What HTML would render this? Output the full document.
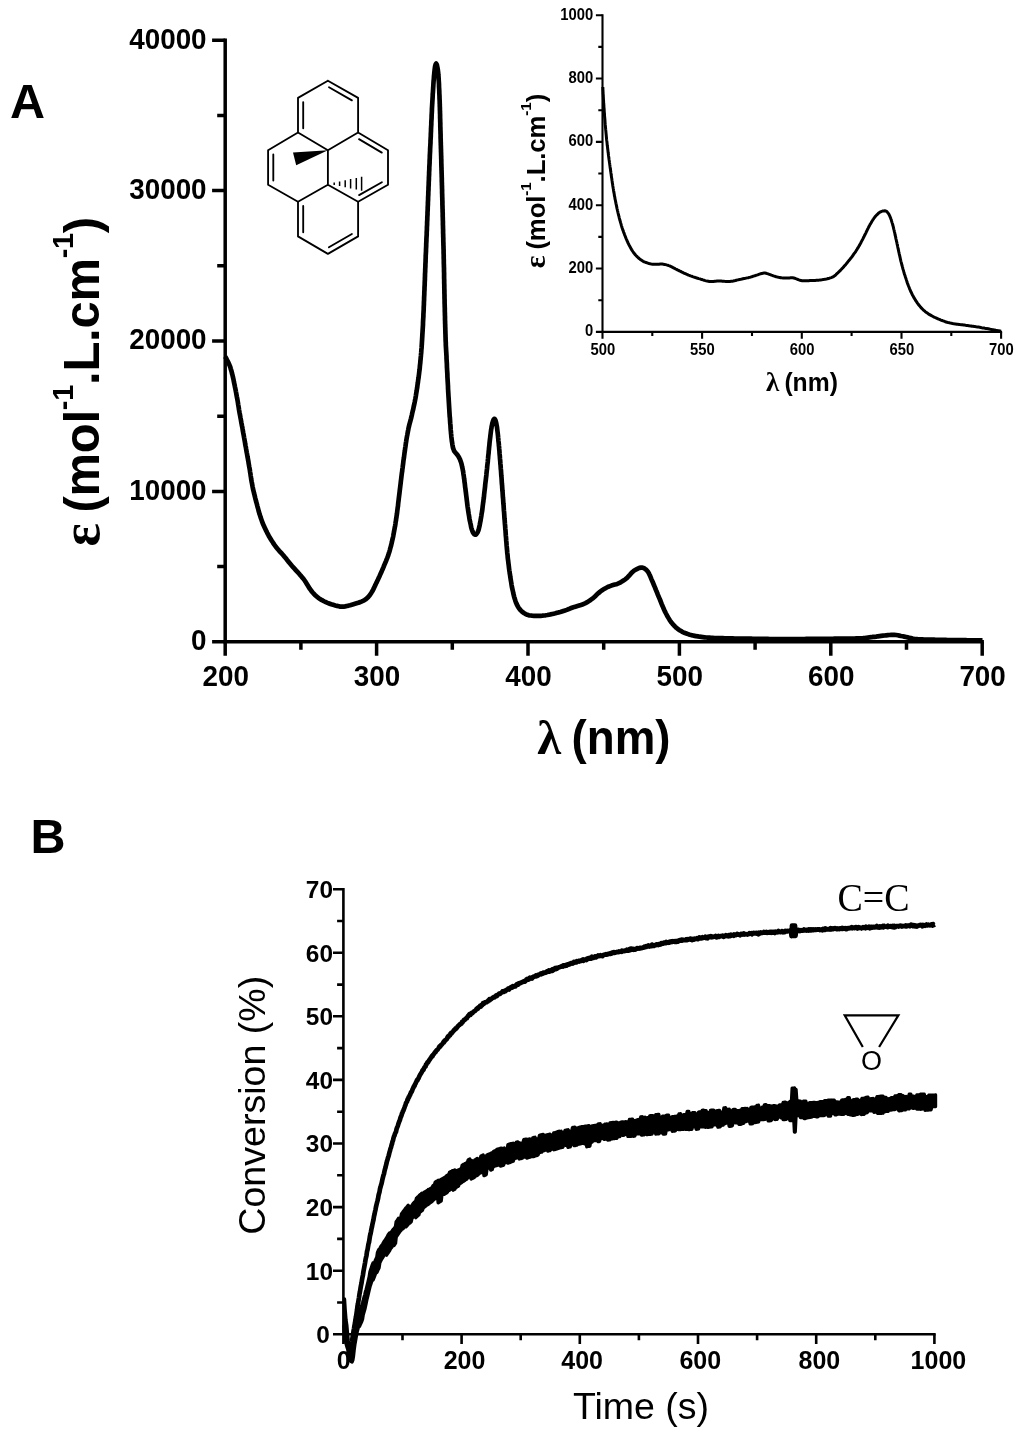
<!DOCTYPE html>
<html lang="en"><head><meta charset="utf-8"><title>Figure</title>
<style>html,body{margin:0;padding:0;background:#fff}svg{display:block}text{font-family:"Liberation Sans",Arial,Helvetica,sans-serif;fill:#000}.b{font-weight:bold}.ser{font-family:"Liberation Serif","Times New Roman",serif}</style></head><body>
<svg width="1024" height="1446" viewBox="0 0 1024 1446">
<rect width="1024" height="1446" fill="#fff"/>
<g stroke="#000" stroke-width="3.5" fill="none" stroke-linecap="butt">
<path d="M225.2 38.4V641.8H983.9"/>
<path d="M225.2 641.8H212.1M225.2 491.4H212.1M225.2 341H212.1M225.2 190.6H212.1M225.2 40.2H212.1M225.2 566.6H217.2M225.2 416.2H217.2M225.2 265.8H217.2M225.2 115.4H217.2M225.2 641.8V655.8M376.6 641.8V655.8M528 641.8V655.8M679.4 641.8V655.8M830.8 641.8V655.8M982.2 641.8V655.8M300.9 641.8V649.8M452.3 641.8V649.8M603.7 641.8V649.8M755.1 641.8V649.8M906.5 641.8V649.8"/>
</g>
<g class="b" font-size="29.6">
<text transform="translate(206.6 650.2) scale(0.94 1)" text-anchor="end">0</text>
<text transform="translate(206.6 499.8) scale(0.94 1)" text-anchor="end">10000</text>
<text transform="translate(206.6 349.4) scale(0.94 1)" text-anchor="end">20000</text>
<text transform="translate(206.6 199) scale(0.94 1)" text-anchor="end">30000</text>
<text transform="translate(206.6 48.6) scale(0.94 1)" text-anchor="end">40000</text>
<text transform="translate(225.7 685.8) scale(0.94 1)" text-anchor="middle">200</text>
<text transform="translate(377 685.8) scale(0.94 1)" text-anchor="middle">300</text>
<text transform="translate(528.4 685.8) scale(0.94 1)" text-anchor="middle">400</text>
<text transform="translate(679.8 685.8) scale(0.94 1)" text-anchor="middle">500</text>
<text transform="translate(831.2 685.8) scale(0.94 1)" text-anchor="middle">600</text>
<text transform="translate(982.6 685.8) scale(0.94 1)" text-anchor="middle">700</text>
</g>
<path d="M225.3 356.6L226.1 358.2L226.8 359.5L227.6 361L228.4 362.6L229 364L229.7 365.6L230.3 367.2L230.7 368.7L231.2 370.3L231.7 372L232 373.5L232.5 375.2L232.9 376.9L233.2 378.3L233.6 380.1L233.9 381.8L234.2 383.2L234.6 385L234.9 386.7L235.2 388.1L235.6 389.9L235.9 391.6L236.2 393.1L236.5 394.8L236.8 396.5L237.1 398L237.4 399.7L237.7 401.4L238 403.2L238.2 404.6L238.5 406.4L238.8 408.1L239 409.6L239.3 411.3L239.6 413L239.9 414.5L240.2 416.2L240.5 417.9L240.8 419.4L241.1 421.1L241.4 422.9L241.7 424.3L242 426L242.4 427.8L242.6 429.2L242.9 431L243.2 432.7L243.5 434.2L243.8 435.9L244.1 437.6L244.4 439.1L244.7 440.8L245 442.5L245.2 444L245.5 445.7L245.9 447.5L246.1 448.9L246.4 450.7L246.7 452.4L247 453.9L247.3 455.6L247.6 457.3L247.9 458.8L248.2 460.5L248.5 462.2L248.7 463.7L249 465.4L249.3 467.2L249.6 468.6L249.9 470.4L250.1 472.1L250.4 473.6L250.6 475.3L250.9 477L251.1 478.5L251.4 480.3L251.7 482L252 483.5L252.3 485.2L252.6 486.9L252.9 488.4L253.3 490.1L253.7 491.8L254.1 493.5L254.5 494.9L254.9 496.6L255.3 498.3L255.7 499.8L256.1 501.5L256.6 503.2L257 504.6L257.4 506.3L257.9 508L258.3 509.5L258.7 511.2L259.2 512.8L259.6 514.3L260.2 516L260.7 517.6L261.2 519L261.8 520.7L262.4 522.3L262.9 523.7L263.6 525.3L264.3 526.9L265 528.3L265.7 529.9L266.5 531.4L267.2 532.8L268 534.3L268.8 535.9L269.6 537.2L270.5 538.7L271.4 540.2L272.2 541.4L273.1 542.9L274.1 544.4L275 545.6L276 547L277.1 548.4L278.1 549.5L279.2 550.8L280.4 552.1L281.4 553.2L282.6 554.5L283.8 555.8L284.7 557L285.9 558.3L286.9 559.7L287.9 560.9L288.9 562.3L290 563.6L291 564.8L292.1 566.1L293.3 567.4L294.5 568.7L295.5 569.8L296.7 571.1L297.9 572.4L298.9 573.5L300 574.8L301.2 576.1L302.1 577.3L303.3 578.6L304.3 580L305.2 581.3L306.1 582.7L307 584.2L307.8 585.5L308.7 587L309.6 588.5L310.5 589.7L311.5 591.1L312.7 592.5L313.7 593.6L314.9 594.9L316.2 596.1L317.3 597L318.7 598.1L320.1 599.1L321.4 599.9L323 600.7L324.5 601.5L325.9 602.2L327.5 602.9L329.1 603.5L330.5 604L332.2 604.6L333.9 605.1L335.3 605.5L337 605.9L338.8 606.3L340.2 606.6L341.9 606.7L343.7 606.6L345.1 606.4L346.9 606L348.6 605.6L350.1 605.2L351.8 604.7L353.5 604.2L354.9 603.8L356.6 603.3L358.3 602.8L359.8 602.2L361.4 601.6L363 600.9L364.3 600.2L365.7 599.3L367.1 598.2L368.3 597L369.3 595.8L370.3 594.4L371.3 593L372 591.7L372.9 590.2L373.7 588.6L374.3 587.2L375.1 585.6L375.8 584L376.5 582.7L377.2 581.1L378 579.5L378.6 578.1L379.4 576.5L380.1 574.9L380.7 573.6L381.4 572L382.1 570.4L382.7 569L383.4 567.4L384 565.8L384.6 564.4L385.3 562.8L386 561.1L386.5 559.7L387.2 558.1L387.8 556.5L388.3 555.1L388.8 553.4L389.4 551.7L389.8 550.3L390.2 548.6L390.7 546.9L391.1 545.5L391.5 543.8L391.9 542.1L392.2 540.6L392.6 538.9L393 537.2L393.3 535.7L393.6 534L393.9 532.3L394.2 530.8L394.5 529.1L394.8 527.3L395.1 525.9L395.4 524.1L395.6 522.4L395.9 520.9L396.1 519.2L396.4 517.5L396.6 516L396.9 514.2L397.1 512.5L397.3 510.8L397.5 509.3L397.7 507.6L398 505.8L398.1 504.3L398.3 502.6L398.5 500.9L398.7 499.4L398.9 497.6L399.1 495.9L399.3 494.4L399.5 492.7L399.7 490.9L399.9 489.4L400.1 487.7L400.3 486L400.5 484.5L400.7 482.7L400.9 481L401.1 479.5L401.3 477.8L401.5 476L401.7 474.5L401.9 472.8L402.2 471.1L402.3 469.6L402.6 467.8L402.8 466.1L403 464.6L403.2 462.9L403.4 461.1L403.6 459.7L403.9 457.9L404.1 456.2L404.3 454.7L404.5 453L404.8 451.2L405 449.7L405.2 448L405.5 446.3L405.7 444.8L405.9 443.1L406.2 441.3L406.4 439.8L406.7 438.1L407 436.4L407.3 434.9L407.6 433.2L407.9 431.5L408.2 430L408.5 428.3L408.9 426.6L409.3 424.9L409.7 423.4L410.2 421.7L410.6 420L411 418.6L411.4 416.9L411.8 415.2L412.1 413.7L412.5 412L412.9 410.3L413.3 408.8L413.6 407.1L414 405.4L414.3 404L414.7 402.2L415 400.5L415.3 399L415.6 397.3L415.9 395.6L416.1 394.1L416.4 392.4L416.7 390.7L416.9 389.2L417.2 387.5L417.4 385.7L417.6 384.2L417.9 382.5L418.1 380.8L418.3 379.3L418.6 377.5L418.8 375.8L419 374.3L419.2 372.6L419.4 370.8L419.6 369.4L419.8 367.6L419.9 365.9L420.1 364.4L420.3 362.6L420.4 360.9L420.6 359.4L420.7 357.7L420.9 355.9L421 354.4L421.2 352.7L421.3 350.9L421.4 349.4L421.6 347.7L421.7 345.9L421.8 344.5L421.9 342.7L422 341L422.1 339.5L422.2 337.7L422.3 336L422.4 334.2L422.5 332.7L422.6 331L422.7 329.2L422.8 327.7L422.9 326L423 324.2L423 322.7L423.1 321L423.2 319.2L423.3 317.7L423.4 316L423.4 314.3L423.5 312.8L423.6 311L423.7 309.3L423.7 307.8L423.8 306L423.9 304.3L423.9 302.8L424 301L424.1 299.3L424.1 297.8L424.2 296L424.3 294.3L424.3 292.8L424.4 291L424.5 289.3L424.5 287.8L424.6 286L424.7 284.3L424.7 282.8L424.8 281L424.9 279.3L424.9 277.8L425 276L425 274.3L425.1 272.8L425.2 271L425.2 269.3L425.3 267.8L425.4 266L425.4 264.3L425.5 262.8L425.6 261L425.6 259.3L425.7 257.8L425.7 256L425.8 254.3L425.9 252.8L426 251L426 249.3L426.1 247.8L426.2 246L426.2 244.3L426.3 242.5L426.4 241L426.4 239.3L426.5 237.5L426.6 236L426.7 234.3L426.7 232.5L426.8 231L426.9 229.3L426.9 227.5L427 226L427.1 224.3L427.1 222.5L427.2 221L427.3 219.3L427.3 217.6L427.4 216.1L427.5 214.3L427.5 212.6L427.6 211.1L427.7 209.3L427.7 207.6L427.8 206.1L427.9 204.3L427.9 202.6L428 201.1L428.1 199.3L428.1 197.6L428.2 196.1L428.3 194.3L428.3 192.6L428.4 191.1L428.5 189.3L428.5 187.6L428.6 186.1L428.7 184.3L428.7 182.6L428.8 181.1L428.9 179.3L428.9 177.6L429 176.1L429.1 174.3L429.1 172.6L429.2 171.1L429.3 169.3L429.3 167.6L429.4 166.1L429.5 164.3L429.6 162.6L429.6 161.1L429.7 159.3L429.8 157.6L429.8 156.1L429.9 154.3L430 152.6L430.1 150.8L430.1 149.3L430.2 147.6L430.3 145.8L430.4 144.4L430.5 142.6L430.5 140.9L430.6 139.4L430.7 137.6L430.8 135.9L430.8 134.4L430.9 132.6L431 130.9L431 129.4L431.1 127.6L431.2 125.9L431.3 124.4L431.3 122.6L431.4 120.9L431.5 119.4L431.6 117.6L431.6 115.9L431.7 114.4L431.8 112.6L431.9 110.9L431.9 109.4L432 107.6L432.1 105.9L432.2 104.4L432.3 102.6L432.4 100.9L432.5 99.4L432.6 97.6L432.7 95.9L432.7 94.4L432.9 92.6L433 90.9L433.1 89.4L433.2 87.7L433.3 85.9L433.4 84.4L433.5 82.7L433.6 80.9L433.8 79.4L433.9 77.7L434 75.9L434.2 74.4L434.3 72.7L434.5 70.9L434.7 69.4L434.9 67.7L435.2 65.9L435.7 64.2L436.2 63.6L436.8 64.6L437.2 66.4L437.5 67.9L437.8 69.6L438 71.3L438.2 72.8L438.3 74.6L438.5 76.3L438.6 77.8L438.7 79.6L438.8 81.3L438.9 82.8L439 84.6L439 86.3L439.1 87.8L439.2 89.6L439.3 91.3L439.3 92.8L439.4 94.6L439.5 96.3L439.5 97.8L439.6 99.6L439.7 101.3L439.7 102.8L439.8 104.6L439.8 106.3L439.9 107.8L439.9 109.6L440 111.3L440 112.8L440.1 114.6L440.1 116.3L440.1 117.8L440.2 119.6L440.2 121.3L440.3 122.8L440.3 124.6L440.3 126.3L440.4 127.8L440.4 129.6L440.5 131.3L440.5 132.8L440.6 134.6L440.6 136.3L440.6 137.8L440.7 139.6L440.7 141.3L440.8 142.8L440.8 144.6L440.9 146.3L440.9 147.8L441 149.6L441 151.3L441.1 153.1L441.1 154.6L441.2 156.3L441.2 158.1L441.3 159.6L441.3 161.3L441.3 163.1L441.4 164.6L441.4 166.3L441.5 168.1L441.5 169.6L441.6 171.3L441.6 173.1L441.7 174.6L441.7 176.3L441.8 178.1L441.8 179.6L441.8 181.3L441.9 183.1L441.9 184.6L442 186.3L442 188.1L442.1 189.6L442.1 191.3L442.1 193.1L442.2 194.6L442.2 196.3L442.3 198.1L442.3 199.6L442.4 201.3L442.4 203.1L442.4 204.6L442.5 206.3L442.5 208.1L442.6 209.6L442.6 211.3L442.7 213.1L442.7 214.6L442.7 216.3L442.8 218.1L442.8 219.6L442.9 221.3L442.9 223.1L442.9 224.6L443 226.3L443 228.1L443.1 229.6L443.1 231.3L443.1 233.1L443.2 234.6L443.2 236.3L443.3 238.1L443.3 239.6L443.3 241.3L443.4 243.1L443.4 244.8L443.5 246.3L443.5 248.1L443.6 249.8L443.6 251.3L443.6 253.1L443.7 254.8L443.7 256.3L443.7 258.1L443.8 259.8L443.8 261.3L443.8 263.1L443.9 264.8L443.9 266.3L444 268.1L444 269.8L444 271.3L444.1 273.1L444.1 274.8L444.1 276.3L444.1 278.1L444.2 279.8L444.2 281.3L444.2 283.1L444.3 284.8L444.3 286.3L444.3 288.1L444.4 289.8L444.4 291.3L444.4 293.1L444.5 294.8L444.5 296.3L444.5 298.1L444.6 299.8L444.6 301.3L444.6 303.1L444.7 304.8L444.7 306.3L444.8 308.1L444.8 309.8L444.8 311.3L444.9 313.1L444.9 314.8L445 316.3L445 318.1L445 319.8L445.1 321.3L445.1 323.1L445.2 324.8L445.2 326.3L445.3 328.1L445.3 329.8L445.4 331.6L445.4 333.1L445.5 334.8L445.5 336.5L445.6 338L445.6 339.8L445.7 341.5L445.8 343L445.8 344.8L445.9 346.5L446 348L446.1 349.8L446.2 351.5L446.3 353L446.4 354.8L446.5 356.5L446.5 358L446.6 359.8L446.7 361.5L446.8 363L446.9 364.8L446.9 366.5L447 368L447.1 369.8L447.2 371.5L447.3 373L447.4 374.8L447.4 376.5L447.5 378L447.6 379.8L447.7 381.5L447.8 383L447.9 384.8L448 386.5L448 388L448.1 389.7L448.2 391.5L448.3 393L448.4 394.7L448.5 396.5L448.6 398L448.7 399.7L448.8 401.5L448.9 403L449 404.7L449.1 406.5L449.2 408L449.3 409.7L449.4 411.5L449.5 413L449.6 414.7L449.7 416.4L449.9 417.9L450 419.7L450.1 421.4L450.2 423.2L450.4 424.7L450.5 426.4L450.6 428.2L450.7 429.7L450.9 431.4L451 433.2L451.2 434.7L451.3 436.4L451.5 438.1L451.7 439.6L451.9 441.4L452.2 443.1L452.4 444.6L452.7 446.4L453.1 448.1L453.6 449.5L454.2 451.1L455.2 452.4L456.2 453.5L457.4 454.9L458.4 456.3L459.1 457.6L459.9 459.2L460.5 460.8L461 462.2L461.5 463.9L461.9 465.6L462.2 467.1L462.6 468.8L462.9 470.6L463.2 472L463.4 473.8L463.7 475.5L463.9 477L464.1 478.7L464.4 480.4L464.5 481.9L464.8 483.7L465 485.4L465.1 486.9L465.4 488.6L465.6 490.4L465.8 491.9L466 493.6L466.2 495.3L466.4 496.8L466.6 498.6L466.8 500.3L467 501.8L467.2 503.5L467.4 505.3L467.6 506.8L467.9 508.5L468.1 510.2L468.4 512L468.6 513.4L468.9 515.2L469.2 516.9L469.4 518.4L469.7 520.1L470.1 521.8L470.4 523.3L470.8 525L471.1 526.8L471.5 528.3L472 530L472.6 531.6L473.2 532.9L474.3 534.3L475.5 534.7L476.5 534L477.5 532.5L478.2 530.9L478.7 529.5L479.1 527.8L479.5 526L479.8 524.5L480.1 522.8L480.5 521L480.7 519.6L481 517.8L481.3 516.1L481.5 514.6L481.8 512.9L482.1 511.2L482.3 509.7L482.5 507.9L482.7 506.2L482.9 504.7L483.1 503L483.4 501.2L483.5 499.8L483.8 498L484 496.3L484.1 494.8L484.3 493L484.5 491.3L484.7 489.8L484.9 488.1L485.1 486.3L485.2 484.8L485.4 483.1L485.6 481.4L485.8 479.9L486 478.1L486.2 476.4L486.4 474.7L486.5 473.2L486.7 471.4L486.9 469.7L487.1 468.2L487.2 466.4L487.4 464.7L487.6 463.2L487.8 461.5L487.9 459.7L488.1 458.2L488.2 456.5L488.4 454.8L488.6 453.3L488.7 451.5L488.9 449.8L489 448.3L489.2 446.5L489.4 444.8L489.5 443.3L489.7 441.6L489.9 439.8L490.1 438.3L490.3 436.6L490.5 434.8L490.7 433.3L490.9 431.6L491.1 429.9L491.4 428.4L491.6 426.7L492 424.9L492.3 423.4L492.9 421.4L493.6 419.6L494.2 418.8L494.8 419L495.5 420.4L496 422.1L496.4 424L496.7 425.8L497 427.3L497.2 429L497.4 430.7L497.6 432.2L497.8 434L498 435.7L498.1 437.2L498.3 439L498.4 440.7L498.6 442.2L498.8 444L498.9 445.7L499.1 447.2L499.2 448.9L499.4 450.7L499.5 452.4L499.6 453.9L499.8 455.7L499.9 457.4L500 458.9L500.2 460.7L500.3 462.4L500.4 463.9L500.6 465.6L500.7 467.4L500.8 468.9L501 470.6L501.1 472.4L501.2 473.9L501.3 475.6L501.5 477.4L501.6 478.9L501.7 480.6L501.8 482.3L501.9 483.8L502.1 485.6L502.2 487.3L502.3 488.8L502.4 490.6L502.6 492.3L502.7 493.8L502.8 495.6L502.9 497.3L503.1 498.8L503.2 500.6L503.3 502.3L503.4 503.8L503.6 505.5L503.7 507.3L503.8 508.8L503.9 510.5L504.1 512.3L504.2 513.8L504.3 515.5L504.4 517.3L504.5 518.8L504.7 520.5L504.8 522.2L504.9 523.7L505.1 525.5L505.2 527.2L505.3 528.7L505.5 530.5L505.6 532.2L505.7 533.7L505.8 535.5L506 537.2L506.1 538.7L506.2 540.4L506.4 542.2L506.5 543.9L506.6 545.4L506.8 547.2L506.9 548.9L507.1 550.4L507.2 552.2L507.4 553.9L507.6 555.4L507.7 557.1L507.9 558.9L508.1 560.4L508.3 562.1L508.5 563.8L508.7 565.3L508.9 567.1L509.1 568.8L509.3 570.3L509.6 572L509.8 573.7L510.1 575.2L510.3 577L510.6 578.7L510.8 580.2L511.1 581.9L511.4 583.6L511.6 585.1L511.9 586.9L512.3 588.6L512.6 590L513 591.7L513.3 593.4L513.7 594.9L514.1 596.6L514.6 598.4L515.1 599.8L515.6 601.5L516.2 603.1L516.8 604.4L517.6 606L518.5 607.5L519.4 608.8L520.5 610.2L521.7 611.4L522.8 612.3L524.3 613.3L525.8 614.1L527.3 614.8L528.9 615.3L530.6 615.5L532.1 615.7L533.9 615.8L535.6 615.9L537.2 615.9L538.9 615.9L540.7 615.8L542.4 615.7L543.9 615.5L545.6 615.3L547.4 615L548.8 614.7L550.5 614.4L552.3 614L553.7 613.7L555.4 613.3L557.1 612.8L558.6 612.4L560.3 612L561.9 611.5L563.4 611L565 610.5L566.7 609.9L568.1 609.3L569.7 608.7L571.3 608L572.7 607.5L574.4 606.9L576.1 606.4L577.5 606L579.2 605.5L580.9 605L582.3 604.5L583.9 603.8L585.5 603.1L586.8 602.4L588.3 601.5L589.8 600.6L591 599.7L592.4 598.7L593.8 597.5L594.9 596.5L596.1 595.3L597.4 594.1L598.5 593.1L599.9 591.9L601.2 590.9L602.5 590L604 589.1L605.5 588.2L606.8 587.5L608.4 586.7L610 586.1L611.4 585.6L613.1 585.1L614.8 584.6L616.3 584.2L617.9 583.6L619.5 582.9L621 582.1L622.3 581.3L623.8 580.3L625.2 579.3L626.4 578.4L627.7 577.2L628.9 575.9L629.9 574.8L631.1 573.4L632.3 572.1L633.4 571.2L634.8 570.2L636.4 569.3L637.8 568.6L639.4 567.9L641.1 567.6L642.5 567.6L644.1 568.2L645.6 569.3L646.7 570.3L647.8 571.5L648.7 572.9L649.3 574.3L650.1 575.9L650.8 577.6L651.4 579.1L652.1 580.7L652.8 582.3L653.4 583.7L654 585.3L654.7 586.9L655.3 588.3L655.9 589.9L656.6 591.6L657.2 592.9L657.8 594.6L658.5 596.2L659.1 597.6L659.8 599.2L660.4 600.8L661 602.2L661.6 603.9L662.3 605.5L662.9 606.9L663.6 608.5L664.3 610.1L664.9 611.4L665.7 613L666.5 614.5L667.2 615.8L668.1 617.4L669 618.9L669.8 620.2L670.8 621.7L671.9 623.1L673 624.4L674 625.5L675.2 626.7L676.5 627.9L677.7 628.8L679.1 629.9L680.6 630.8L681.9 631.6L683.4 632.3L685 633L686.4 633.5L688.1 634.1L689.8 634.7L691.3 635.1L693 635.5L694.7 635.9L696.1 636.2L697.9 636.4L699.6 636.7L701.1 636.9L702.8 637.1L704.6 637.3L706.1 637.5L707.8 637.6L709.6 637.7L711.1 637.8L712.8 637.9L714.6 638L716.1 638L717.8 638.1L719.6 638.1L721.1 638.2L722.8 638.2L724.6 638.3L726.1 638.3L727.8 638.4L729.6 638.4L731.1 638.4L732.8 638.4L734.6 638.5L736.1 638.5L737.8 638.5L739.6 638.6L741.1 638.6L742.8 638.6L744.6 638.6L746.1 638.7L747.8 638.7L749.6 638.7L751.1 638.7L752.8 638.8L754.6 638.8L756.1 638.8L757.8 638.8L759.6 638.9L761.3 638.9L762.8 638.9L764.6 638.9L766.3 638.9L767.8 638.9L769.6 639L771.3 639L772.8 639L774.6 639L776.3 639L777.8 639L779.6 639L781.3 639L782.8 639L784.6 639L786.3 639L787.8 639L789.6 639L791.3 639L792.8 639L794.6 639L796.3 639L797.8 639L799.6 639L801.3 639L802.8 639L804.6 639L806.3 638.9L807.8 638.9L809.6 638.9L811.3 638.9L812.8 638.9L814.6 638.9L816.4 638.9L817.9 638.9L819.6 638.9L821.4 638.9L822.9 638.8L824.6 638.8L826.4 638.8L827.9 638.8L829.6 638.8L831.4 638.8L832.9 638.8L834.6 638.7L836.4 638.7L837.9 638.7L839.6 638.7L841.4 638.7L842.9 638.6L844.6 638.6L846.4 638.6L848.1 638.6L849.6 638.6L851.3 638.5L853.1 638.5L854.6 638.5L856.3 638.4L858.1 638.4L859.6 638.4L861.3 638.3L863.1 638.2L864.6 638L866.3 637.8L868 637.6L869.5 637.4L871.3 637.2L873 636.9L874.5 636.8L876.2 636.6L878 636.3L879.5 636.1L881.2 635.9L883 635.7L884.5 635.5L886.2 635.3L887.9 635.1L889.4 635L891.2 634.9L892.9 634.8L894.4 634.9L896.1 635L897.8 635.3L899.3 635.6L901 636L902.8 636.3L904.2 636.6L906 637L907.7 637.4L909.1 637.7L910.9 638.1L912.6 638.5L914.1 638.8L915.8 639L917.5 639.2L919 639.3L920.7 639.3L922.5 639.4L924 639.5L925.7 639.5L927.4 639.6L928.9 639.6L930.7 639.7L932.5 639.7L934 639.7L935.7 639.8L937.5 639.8L939.2 639.8L940.7 639.9L942.5 639.9L944.2 639.9L945.7 639.9L947.5 640L949.2 640L950.7 640L952.5 640L954.2 640.1L955.7 640.1L957.5 640.1L959.2 640.1L960.7 640.2L962.5 640.2L964.2 640.2L965.7 640.2L967.5 640.3L969.2 640.3L970.7 640.3L972.5 640.3L974.2 640.3L975.7 640.3L977.5 640.4L979.2 640.4L980.7 640.4L982.5 640.4" fill="none" stroke="#000" stroke-width="4.7" stroke-linejoin="round" stroke-linecap="butt"/>
<text class="b" font-size="48.5" x="10" y="118">A</text>
<g transform="translate(98.8 512.5) rotate(-90)">
<text class="b" font-size="50" letter-spacing="-0.27" transform="scale(0.98 1)">(mol<tspan font-size="29.5" dy="-26.3">-1</tspan><tspan dy="26.3">.L.cm</tspan><tspan font-size="29.5" dy="-26.3">-1</tspan><tspan dy="26.3">)</tspan></text>
</g>
<text class="b ser" font-size="54.5" text-anchor="start" transform="translate(99.4 546.6) rotate(-90)">ε</text>
<text class="b ser" font-size="48.5" x="537.3" y="754">λ</text>
<text class="b" font-size="49" transform="translate(571.5 754) scale(0.933 1)">(nm)</text>
<path d="M327.9 80.7L298 97.9M327.9 80.7L358.1 97.9M298 97.9L298 132.5M358.1 97.9L358.1 132.5M298 132.5L327.9 150.2M358.1 132.5L327.9 150.2M298 132.5L268.1 150.2M268.1 150.2L268.1 184.8M268.1 184.8L298 201.7M298 201.7L327.9 184.8M327.9 150.2L327.9 184.8M358.1 132.5L388 150.2M388 150.2L388 184.8M388 184.8L358.1 201.7M327.9 184.8L358.1 201.7M298 201.7L298 236.4M358.1 201.7L358.1 236.4M298 236.4L327.9 253.9M358.1 236.4L327.9 253.9M329 87.3L351.9 100.4M303.2 102.1L303.2 128.3M273.3 154.4L273.3 180.6M359 139.1L381.8 152.6M381.9 182.3L359.1 195.1M303.2 205.9L303.2 232.2M351.9 234L328.9 247.3" fill="none" stroke="#000" stroke-width="1.85" stroke-linecap="round"/>
<path d="M327.9 150.2L293 152.6L296.2 165.2Z" fill="#000"/>
<path d="M334.2 182.5V184.9M339.6 181.4V186.1M345.2 180.2V187.2M350.6 179.1V188.4M356.3 177.9V189.5M361.6 176.8V190.7" fill="none" stroke="#000" stroke-width="1.5"/>
<g stroke="#000" stroke-width="2.1" fill="none">
<path d="M602.5 14.2V331.9H1002.1"/>
<path d="M602.5 331.9H595.9M602.5 268.5H595.9M602.5 205.2H595.9M602.5 141.9H595.9M602.5 78.5H595.9M602.5 15.2H595.9M602.5 300.2H598.3M602.5 236.9H598.3M602.5 173.5H598.3M602.5 110.2H598.3M602.5 46.9H598.3M602.5 331.9V338.7M702.1 331.9V338.7M801.8 331.9V338.7M901.5 331.9V338.7M1001.1 331.9V338.7M652.3 331.9V336.1M752 331.9V336.1M851.6 331.9V336.1M951.3 331.9V336.1"/>
</g>
<g class="b" font-size="15.6">
<text transform="translate(593.2 336.2) scale(0.95 1)" text-anchor="end">0</text>
<text transform="translate(593.2 272.9) scale(0.95 1)" text-anchor="end">200</text>
<text transform="translate(593.2 209.6) scale(0.95 1)" text-anchor="end">400</text>
<text transform="translate(593.2 146.3) scale(0.95 1)" text-anchor="end">600</text>
<text transform="translate(593.2 82.9) scale(0.95 1)" text-anchor="end">800</text>
<text transform="translate(593.2 19.6) scale(0.95 1)" text-anchor="end">1000</text>
<text transform="translate(602.8 354.8) scale(0.95 1)" text-anchor="middle">500</text>
<text transform="translate(702.4 354.8) scale(0.95 1)" text-anchor="middle">550</text>
<text transform="translate(802.1 354.8) scale(0.95 1)" text-anchor="middle">600</text>
<text transform="translate(901.8 354.8) scale(0.95 1)" text-anchor="middle">650</text>
<text transform="translate(1001.4 354.8) scale(0.95 1)" text-anchor="middle">700</text>
</g>
<path d="M602.8 87L602.9 88.2L602.9 89.3L603 90.3L603 91.2L603.1 92.5L603.1 93.5L603.2 94.7L603.3 95.7L603.3 96.7L603.4 98L603.4 99L603.5 100L603.6 101.2L603.6 102.2L603.7 103.5L603.8 104.5L603.9 105.5L603.9 106.7L604 107.7L604.1 108.7L604.2 110L604.2 111L604.3 112.2L604.4 113.2L604.5 114.2L604.5 115.5L604.6 116.5L604.7 117.5L604.8 118.7L604.9 119.7L605 120.9L605 121.9L605.1 122.9L605.2 124.2L605.3 125.2L605.4 126.2L605.5 127.4L605.6 128.4L605.7 129.7L605.8 130.7L605.9 131.7L606 132.9L606.1 133.9L606.2 134.9L606.3 136.1L606.4 137.1L606.5 138.1L606.6 139.4L606.7 140.4L606.9 141.6L607 142.6L607.1 143.6L607.2 144.8L607.3 145.8L607.5 146.8L607.6 148.1L607.7 149.1L607.9 150.3L608 151.3L608.1 152.3L608.3 153.5L608.4 154.5L608.5 155.5L608.7 156.8L608.8 157.8L609 159L609.1 160L609.3 161L609.4 162.2L609.6 163.2L609.7 164.2L609.9 165.4L610 166.4L610.2 167.7L610.3 168.7L610.5 169.6L610.6 170.9L610.8 171.9L610.9 172.9L611.1 174.1L611.2 175.1L611.4 176.3L611.5 177.3L611.7 178.3L611.9 179.6L612 180.5L612.2 181.5L612.3 182.8L612.5 183.8L612.7 185L612.8 186L613 187L613.2 188.2L613.4 189.2L613.5 190.2L613.7 191.4L613.9 192.4L614.1 193.4L614.3 194.6L614.4 195.6L614.7 196.8L614.9 197.8L615 198.8L615.3 200L615.5 201L615.7 202L615.9 203.2L616.1 204.2L616.4 205.4L616.6 206.4L616.8 207.4L617 208.6L617.3 209.6L617.5 210.6L617.8 211.8L618 212.8L618.3 214L618.5 215L618.8 215.9L619.1 217.1L619.3 218.1L619.6 219.1L619.9 220.3L620.2 221.2L620.5 222.4L620.8 223.4L621.1 224.4L621.4 225.6L621.7 226.5L622 227.5L622.4 228.7L622.7 229.6L623.2 230.8L623.5 231.8L623.8 232.7L624.3 233.9L624.6 234.8L625 235.7L625.4 236.9L625.8 237.8L626.2 238.8L626.7 239.9L627.1 240.8L627.6 241.9L628 242.9L628.5 243.8L629 244.9L629.5 245.8L630 246.7L630.6 247.9L631.1 248.7L631.7 249.8L632.3 250.7L632.8 251.5L633.5 252.5L634.1 253.3L634.7 254L635.5 255L636.2 255.7L637.1 256.6L637.8 257.3L638.6 258L639.6 258.9L640.4 259.5L641.2 260.1L642.3 260.8L643.1 261.3L644.2 261.8L645.1 262.2L646 262.5L647.2 262.9L648.1 263.2L649.1 263.5L650.3 263.8L651.3 264L652.6 264.2L653.6 264.3L654.6 264.3L655.9 264.3L656.9 264.3L657.9 264.2L659.1 264.2L660.1 264.1L661.4 264.1L662.3 264.1L663.3 264.2L664.6 264.4L665.6 264.6L666.5 264.9L667.7 265.2L668.7 265.6L669.6 265.9L670.7 266.4L671.6 266.8L672.8 267.4L673.6 267.9L674.5 268.3L675.6 269L676.5 269.4L677.4 269.9L678.5 270.4L679.4 270.9L680.6 271.4L681.5 271.9L682.4 272.3L683.5 272.9L684.4 273.3L685.3 273.7L686.4 274.2L687.4 274.6L688.5 275.1L689.4 275.4L690.4 275.8L691.6 276.2L692.5 276.6L693.4 276.9L694.6 277.3L695.6 277.6L696.8 278L697.7 278.3L698.7 278.6L699.9 278.9L700.8 279.2L701.8 279.5L703 279.9L704 280.2L705.2 280.6L706.2 280.9L707.1 281.1L708.4 281.3L709.3 281.5L710.3 281.6L711.6 281.6L712.5 281.6L713.5 281.5L714.8 281.3L715.8 281.2L717 281.1L718 281.1L719 281L720.3 281.1L721.3 281.1L722.3 281.2L723.5 281.2L724.5 281.3L725.8 281.4L726.8 281.4L727.8 281.5L729 281.5L730 281.4L731 281.3L732.2 281.2L733.2 281L734.4 280.7L735.4 280.5L736.4 280.2L737.6 279.9L738.6 279.7L739.6 279.4L740.8 279.2L741.8 279L743 278.7L744 278.5L745 278.4L746.2 278.1L747.2 277.9L748.2 277.7L749.4 277.4L750.3 277.2L751.5 276.8L752.5 276.5L753.4 276.2L754.6 275.8L755.6 275.5L756.5 275.2L757.7 274.8L758.7 274.4L759.6 274.1L760.8 273.7L761.8 273.4L763 273.2L763.9 273.1L764.9 273.1L766.1 273.3L767.1 273.6L768.1 273.9L769.3 274.3L770.2 274.6L771.4 275.1L772.3 275.4L773.3 275.8L774.5 276.2L775.4 276.5L776.4 276.8L777.6 277.1L778.5 277.3L779.8 277.5L780.7 277.7L781.7 277.8L783 277.9L784 278L785 278.1L786.2 278L787.2 278L788.5 277.9L789.5 277.9L790.5 277.8L791.7 277.8L792.7 277.8L793.7 278L794.9 278.3L795.8 278.7L797 279.1L798 279.5L798.9 279.9L800.1 280.3L801.1 280.6L802 280.7L803.3 280.8L804.2 280.8L805.5 280.8L806.5 280.7L807.5 280.7L808.8 280.7L809.8 280.6L810.8 280.6L812 280.6L813 280.5L814 280.5L815.3 280.4L816.3 280.3L817.5 280.2L818.5 280.2L819.5 280.1L820.8 279.9L821.8 279.8L822.8 279.6L824.1 279.4L825.1 279.2L826.4 279L827.3 278.8L828.3 278.5L829.5 278.2L830.4 277.9L831.3 277.6L832.4 277.2L833.2 276.7L834.2 276.1L835 275.5L835.8 274.8L836.7 273.9L837.5 273.2L838.2 272.5L839.1 271.6L839.9 270.9L840.7 270L841.4 269.3L842.1 268.5L843 267.6L843.6 266.9L844.3 266.1L845.1 265.2L845.8 264.4L846.6 263.4L847.2 262.7L847.8 261.9L848.6 260.9L849.3 260.1L849.9 259.3L850.6 258.4L851.3 257.6L851.9 256.8L852.6 255.8L853.2 255L853.9 253.9L854.5 253.1L855.1 252.3L855.8 251.3L856.3 250.4L856.9 249.6L857.5 248.5L858.1 247.7L858.7 246.6L859.2 245.7L859.7 244.9L860.3 243.8L860.8 242.9L861.2 242L861.8 240.9L862.3 240L862.9 238.9L863.3 238L863.8 237.1L864.3 236L864.8 235.1L865.2 234.2L865.8 233.1L866.2 232.2L866.8 231L867.2 230.1L867.6 229.2L868.2 228.1L868.6 227.2L869.1 226.3L869.7 225.2L870.1 224.3L870.8 223.3L871.3 222.4L871.8 221.5L872.5 220.5L873 219.6L873.6 218.8L874.3 217.7L874.9 217L875.5 216.2L876.4 215.3L877.1 214.6L878 213.7L878.8 213L879.6 212.4L880.7 211.8L881.6 211.4L882.5 211.1L883.7 210.9L884.7 210.8L885.8 211L886.6 211.4L887.3 212.1L888.1 213.1L888.7 213.9L889.2 214.8L889.7 215.9L890.1 216.8L890.6 218L890.9 219L891.3 219.9L891.6 221.2L891.9 222.1L892.2 223.1L892.6 224.3L892.8 225.3L893.2 226.5L893.4 227.4L893.6 228.4L893.9 229.6L894.2 230.6L894.4 231.6L894.7 232.8L894.9 233.8L895.1 235L895.4 236L895.6 236.9L895.8 238.2L896 239.1L896.3 240.1L896.5 241.4L896.8 242.3L897 243.5L897.2 244.5L897.5 245.5L897.7 246.7L897.9 247.7L898.1 248.7L898.4 249.9L898.6 250.9L898.8 251.9L899.1 253.1L899.3 254.1L899.6 255.3L899.8 256.3L900 257.2L900.3 258.5L900.5 259.4L900.7 260.4L901 261.6L901.3 262.6L901.6 263.8L901.8 264.8L902.1 265.7L902.4 266.9L902.7 267.9L902.9 268.9L903.3 270.1L903.6 271L903.9 272.2L904.2 273.2L904.5 274.2L904.9 275.4L905.2 276.3L905.5 277.3L905.9 278.4L906.2 279.4L906.6 280.6L906.9 281.5L907.2 282.5L907.6 283.7L908 284.6L908.3 285.5L908.8 286.7L909.2 287.6L909.6 288.8L910 289.7L910.4 290.6L910.9 291.8L911.4 292.7L911.8 293.6L912.3 294.7L912.8 295.6L913.3 296.5L913.9 297.6L914.4 298.4L915.1 299.5L915.6 300.4L916.1 301.2L916.8 302.2L917.4 303.1L918 303.9L918.7 304.9L919.4 305.6L920.2 306.6L920.8 307.4L921.5 308.1L922.4 309L923.1 309.7L923.8 310.4L924.8 311.2L925.5 311.8L926.5 312.6L927.3 313.1L928.2 313.7L929.2 314.4L930.1 314.9L931 315.4L932.1 316L933 316.5L934.1 317.1L935 317.5L935.9 317.9L937 318.4L937.9 318.8L938.8 319.2L940 319.7L940.9 320.1L942.1 320.5L943.1 320.9L944 321.2L945.2 321.7L946.2 322L947.1 322.3L948.3 322.6L949.3 322.8L950.5 323.1L951.5 323.3L952.5 323.5L953.7 323.7L954.7 323.9L955.6 324L956.9 324.2L957.9 324.3L958.9 324.4L960.1 324.6L961.1 324.7L962.4 324.8L963.4 325L964.4 325.1L965.6 325.3L966.6 325.4L967.6 325.5L968.8 325.7L969.8 325.9L971.1 326L972 326.2L973 326.3L974.3 326.5L975.3 326.6L976.2 326.8L977.5 327L978.5 327.1L979.7 327.3L980.7 327.5L981.7 327.7L982.9 327.9L983.9 328L984.9 328.2L986.1 328.4L987.1 328.6L988.3 328.8L989.3 329L990.3 329.2L991.5 329.4L992.5 329.6L993.5 329.8L994.7 330L995.7 330.2L996.9 330.4L997.9 330.6L998.9 330.8L999.9 331.1L1001.1 331.3" fill="none" stroke="#000" stroke-width="3" stroke-linejoin="round"/>
<g transform="translate(544.7 249.6) rotate(-90)">
<text class="b" font-size="26" letter-spacing="-0.14" transform="scale(0.993 1)">(mol<tspan font-size="15.4" dy="-13.6">-1</tspan><tspan dy="13.6">.L.cm</tspan><tspan font-size="15.4" dy="-13.6">-1</tspan><tspan dy="13.6">)</tspan></text>
</g>
<text class="b ser" font-size="30" text-anchor="start" transform="translate(544.7 268.2) rotate(-90)">ε</text>
<text class="b ser" font-size="27" x="766" y="391.4">λ</text>
<text class="b" font-size="25.6" transform="translate(784.4 391.4) scale(0.965 1)">(nm)</text>
<g stroke="#000" stroke-width="2.6" fill="none">
<path d="M343.4 887.9V1334.3H935.7"/>
<path d="M343.4 1334.3H333M343.4 1270.7H333M343.4 1207.1H333M343.4 1143.5H333M343.4 1079.9H333M343.4 1016.3H333M343.4 952.8H333M343.4 889.2H333M343.4 1302.5H337.1M343.4 1238.9H337.1M343.4 1175.3H337.1M343.4 1111.7H337.1M343.4 1048.1H337.1M343.4 984.6H337.1M343.4 921H337.1M343.4 1334.3V1344.1M461.6 1334.3V1344.1M579.8 1334.3V1344.1M698 1334.3V1344.1M816.2 1334.3V1344.1M934.4 1334.3V1344.1M402.5 1334.3V1340.3M520.7 1334.3V1340.3M638.9 1334.3V1340.3M757.1 1334.3V1340.3M875.3 1334.3V1340.3"/>
</g>
<g class="b" font-size="24.4">
<text x="329.9" y="1343.1" text-anchor="end">0</text>
<text x="333" y="1279.5" text-anchor="end">10</text>
<text x="333" y="1215.9" text-anchor="end">20</text>
<text x="333" y="1152.3" text-anchor="end">30</text>
<text x="333" y="1088.7" text-anchor="end">40</text>
<text x="333" y="1025.1" text-anchor="end">50</text>
<text x="333" y="961.6" text-anchor="end">60</text>
<text x="333" y="898" text-anchor="end">70</text>
</g>
<g class="b" font-size="25">
<text x="343.6" y="1368.5" text-anchor="middle">0</text>
<text x="464.5" y="1368.5" text-anchor="middle">200</text>
<text x="582.1" y="1368.5" text-anchor="middle">400</text>
<text x="700.3" y="1368.5" text-anchor="middle">600</text>
<text x="819.4" y="1368.5" text-anchor="middle">800</text>
<text x="938.4" y="1368.5" text-anchor="middle">1000</text>
</g>
<path d="M344.5 1325L345 1330.5L345.5 1335.2L346 1339.2L346.5 1342.7L347 1344.6L347.5 1346.4L348 1348.1L348.5 1348.4L349 1349.1L349.5 1350L350 1350.1L350.5 1349.4L351 1347.2L351.5 1345L352 1342.1L352.5 1337.9L353 1334.9L353.5 1331.2L354 1328.6L354.5 1325.4L355 1323L355.5 1319.4L356 1316.8L356.5 1313.5L357 1310.2L357.5 1306L358 1303.6L358.5 1300.6L359 1297.6L359.5 1294L360 1291.5L360.5 1288.3L361 1285.5L361.5 1283.3L362 1279.7L362.5 1277.1L363 1274.7L363.5 1271.2L364 1268.6L364.5 1265.9L365 1263.1L365.5 1259.8L366 1257.6L366.5 1255.4L367 1251.5L367.5 1249.8L368 1246.8L368.5 1243.9L369 1242.3L369.5 1239.2L370 1235.9L370.5 1233.9L371 1231.5L371.5 1228.7L372 1226.6L372.5 1223.9L373 1221.7L373.5 1219.6L374 1216.4L374.5 1214.4L375 1211.8L375.5 1209.7L376 1206.9L376.5 1204.8L377 1202.7L377.5 1200.9L378 1198.8L378.5 1195.6L379 1193.6L379.5 1192L380 1188.8L380.5 1187.3L381 1185.3L381.5 1183.8L382 1181.5L382.5 1179.1L383 1177.1L383.5 1175.1L384 1173.8L384.5 1171.1L385 1169.2L385.5 1167.5L386 1165.3L386.5 1163.4L387 1161.1L387.5 1159.7L388 1157.6L388.5 1156.4L389 1154.4L389.5 1152.3L390 1150.8L390.5 1148.6L391 1147.4L391.5 1145.3L392 1143.9L392.5 1141.5L393 1140.5L393.5 1138.1L394 1136.4L394.5 1135.5L395 1133.7L395.5 1132.6L396 1131.9L396.5 1129.2L397 1127.7L397.5 1126.6L398 1125.2L398.5 1123.5L399 1122.1L399.5 1121L400 1119.6L400.5 1117.6L401 1116.6L401.5 1115.3L402 1113.5L402.5 1112.7L403 1111L403.5 1110.4L404 1108.8L404.5 1107.6L405 1106.1L405.5 1105L406 1103.1L406.5 1102.3L407 1101.7L407.5 1099.5L408 1099.6L408.5 1097.4L409 1097.3L409.5 1095.6L410 1095.1L410.5 1093.8L411 1092.1L411.5 1092.1L412 1091.2L412.5 1089.5L413 1088.4L413.5 1087.5L414 1086.1L414.5 1086L415 1084.3L415.5 1083.6L416 1082.3L416.5 1081.4L417 1080.2L417.5 1080.3L418 1078.8L418.5 1078.3L419 1077.1L419.5 1075.9L420 1075.1L420.5 1074.2L421 1073.5L421.5 1072.5L422 1071.7L422.5 1070.4L423 1069.8L423.5 1069.9L424 1068.2L424.5 1067.2L425 1066.9L425.5 1066.6L426 1064.6L426.5 1064.3L427 1063.4L427.5 1062.2L428 1062.4L428.5 1061.4L429 1060.7L429.5 1059.6L430 1059.4L430.5 1058.3L431 1057.7L431.5 1056.7L432 1055.9L432.5 1056.3L433 1054.9L433.5 1054.5L434 1053.7L434.5 1052.9L435 1052.3L435.5 1052.1L436 1051.1L436.5 1050.5L437 1050L437.5 1049.8L438 1049L438.5 1048.3L439 1047.3L439.5 1046.4L440 1046.7L440.5 1046.1L441 1045.1L441.5 1044.8L442 1044.3L442.5 1043.7L443 1043.2L443.5 1042L444 1042.3L444.5 1040.6L445 1040.8L445.5 1040.1L446 1039.7L446.5 1039.5L447 1038.8L447.5 1037.2L448 1036.4L448.5 1036.9L449 1035.6L449.5 1035.5L450 1035.3L450.5 1033.7L451 1033L451.5 1033.4L452 1032.8L452.5 1032.1L453 1031.7L453.5 1030.8L454 1030L454.5 1030.1L455 1029.2L455.5 1028.4L456 1028.8L456.5 1028L457 1027.7L457.5 1026.6L458 1026.2L458.5 1025.6L459 1025.1L459.5 1025L460 1024.1L460.5 1024.1L461 1023.6L461.5 1023.7L462 1021.9L462.5 1022.3L463 1021.4L463.5 1020.9L464 1019.9L464.5 1019.8L465 1019.8L465.5 1019L466 1018.5L466.5 1017.9L467 1018L467.5 1017.1L468 1015.8L468.5 1015.9L469 1014.9L469.5 1014.2L470 1014.6L470.5 1014.9L471 1014L471.5 1013L472 1012.7L472.5 1013.1L473 1012.3L473.5 1011.8L474 1011.4L474.5 1011L475 1010.9L475.5 1010.3L476 1009.8L476.5 1008.9L477 1009.1L477.5 1008.2L478 1008.5L478.5 1007.2L479 1007.2L479.5 1006.9L480 1006L480.5 1006.8L481 1006.3L481.5 1005.2L482 1005.3L482.5 1004.8L483 1003.2L483.5 1004L484 1003.5L484.5 1003.2L485 1002.4L485.5 1002.3L486 1002L486.5 1002.2L487 1001.6L487.5 1001.1L488 1001.4L488.5 1000.2L489 1000L489.5 999.1L490 1000.1L490.5 999.5L491 999.2L491.5 998.8L492 998.3L492.5 998L493 997.5L493.5 997.2L494 997L494.5 997.3L495 996.6L495.5 996.1L496 995.6L496.5 995.3L497 995.9L497.5 995.2L498 994.7L498.5 994.3L499 993.7L499.5 993.8L500 993.9L500.5 993.1L501 992.9L501.5 992.6L502 992.5L502.5 991.5L503 991.8L503.5 991.3L504 991.7L504.5 990.8L505 991L505.5 991.1L506 990.1L506.5 989.8L507 989.8L507.5 989.5L508 988.8L508.5 989.1L509 989.5L509.5 988.3L510 988.1L510.5 987.5L511 987.8L511.5 986.9L512 986.7L512.5 987.4L513 986.3L513.5 986.8L514 986.7L514.5 986L515 985.9L515.5 986.2L516 985.1L516.5 984.7L517 984.1L517.5 984.4L518 984.7L518.5 984.3L519 983.3L519.5 983.1L520 983L520.5 983.1L521 982.6L521.5 982.5L522 982.3L522.5 981.9L523 981.7L523.5 981.6L524 981.2L524.5 981.2L525 981.6L525.5 980.8L526 980.4L526.5 979.4L527 980L527.5 978.9L528 978.9L528.5 979.5L529 979.3L529.5 978.7L530 977.8L530.5 978.2L531 977.8L531.5 978.1L532 978.6L532.5 977.5L533 976.9L533.5 976.6L534 976.8L534.5 976.6L535 976L535.5 976.3L536 975.6L536.5 976.3L537 976L537.5 975.9L538 975L538.5 975.2L539 974.8L539.5 974.5L540 974.3L540.5 973.7L541 973.5L541.5 974.2L542 973.6L542.5 973.6L543 973.7L543.5 972.5L544 972.6L544.5 972.8L545 972.8L545.5 972.3L546 972.6L546.5 972.1L547 971.4L547.5 971.3L548 971.8L548.5 971.5L549 970.4L549.5 971.5L550 971L550.5 971.1L551 970.2L551.5 970.1L552 969.6L552.5 970.9L553 969.6L553.5 970.1L554 969L554.5 969.2L555 968.3L555.5 968.6L556 969L556.5 967.9L557 968.7L557.5 968.2L558 967.5L558.5 967.5L559 967.3L559.5 967.3L560 967L560.5 966.7L561 966.7L561.5 966.3L562 966L562.5 966.3L563 966.5L563.5 965.4L564 965.8L564.5 965.4L565 965.1L565.5 965.7L566 965L566.5 965.6L567 964.6L567.5 964.9L568 964.5L568.5 964.1L569 964.5L569.5 964L570 964.2L570.5 963.8L571 963.2L571.5 963.4L572 963.3L572.5 963.6L573 962.7L573.5 962.9L574 962L574.5 962.8L575 962L575.5 961.6L576 962.1L576.5 962.4L577 961.2L577.5 961.3L578 961.3L578.5 961L579 961.4L579.5 960.8L580 960.7L580.5 961.1L581 960.4L581.5 960.8L582 960.1L582.5 959.8L583 959.4L583.5 960.8L584 959.8L584.5 959.9L585 959.6L585.5 959.5L586 959.4L586.5 960L587 958.7L587.5 958.3L588 958.4L588.5 958.1L589 958.8L589.5 958.7L590 957.9L590.5 957.6L591 957.9L591.5 958.5L592 956.7L592.5 957.9L593 957.1L593.5 957.8L594 956.9L594.5 957L595 956.4L595.5 956.5L596 957.4L596.5 957L597 956.4L597.5 956.1L598 955.6L598.5 956.1L599 956.1L599.5 956L600 955.9L600.5 955.3L601 955.6L601.5 955.5L602 956L602.5 956.1L603 955.2L603.5 954.8L604 955L604.5 954.7L605 954.5L605.5 954.7L606 954.2L606.5 954.7L607 954.4L607.5 954.4L608 954.1L608.5 953.8L609 953.6L609.5 953.8L610 953.5L610.5 953.8L611 953.6L611.5 952.9L612 953.4L612.5 952.7L613 952.9L613.5 952.9L614 952.1L614.5 952.9L615 952.8L615.5 952.6L616 952.4L616.5 952.3L617 951.9L617.5 952.1L618 951.9L618.5 952.1L619 951.5L619.5 951.9L620 951.8L620.5 951.6L621 951.4L621.5 951.7L622 950.7L622.5 951.4L623 951.2L623.5 951.2L624 951.1L624.5 950.6L625 950.7L625.5 950.9L626 950.7L626.5 950.6L627 949.8L627.5 950.5L628 950.7L628.5 950.5L629 950.1L629.5 949.3L630 950.2L630.5 949.7L631 948.6L631.5 949.7L632 948.9L632.5 948.9L633 949L633.5 949.7L634 949L634.5 949.1L635 949.6L635.5 949.5L636 948.7L636.5 948.6L637 948.1L637.5 948.2L638 948.6L638.5 948.5L639 948.3L639.5 948.6L640 947.8L640.5 947.9L641 948.2L641.5 948L642 948.1L642.5 947.8L643 947.4L643.5 947.6L644 946.9L644.5 946.6L645 947.3L645.5 947L646 947L646.5 946.1L647 946.6L647.5 946.4L648 946.2L648.5 945.5L649 946.2L649.5 946.5L650 946.2L650.5 945.7L651 945.9L651.5 946.1L652 944.6L652.5 945.5L653 945.6L653.5 945.6L654 945.9L654.5 945.6L655 945.1L655.5 945L656 945.1L656.5 944.4L657 944.5L657.5 944.8L658 945.1L658.5 944.2L659 944.1L659.5 944.1L660 944.5L660.5 943.8L661 944.3L661.5 943.2L662 943.4L662.5 943.3L663 943.6L663.5 943.6L664 942.5L664.5 942.6L665 943L665.5 942.5L666 942.1L666.5 943L667 942.7L667.5 942.6L668 942.2L668.5 942.7L669 942.1L669.5 942.5L670 941.6L670.5 941.6L671 941.9L671.5 941.5L672 942L672.5 941.7L673 941.2L673.5 941.5L674 941.3L674.5 941.7L675 941L675.5 941L676 941.6L676.5 941.9L677 941.8L677.5 940.9L678 940.9L678.5 941.4L679 940.6L679.5 940.2L680 940.6L680.5 940.7L681 940.1L681.5 939.7L682 939.7L682.5 940.5L683 939.8L683.5 940L684 940.1L684.5 940.2L685 939.8L685.5 940L686 939.4L686.5 939.6L687 939.2L687.5 940L688 939.5L688.5 939.2L689 939.3L689.5 939.3L690 939.6L690.5 938.6L691 938.7L691.5 939L692 940.1L692.5 939.4L693 938.9L693.5 939.2L694 939.6L694.5 938.7L695 938.6L695.5 939.1L696 938.8L696.5 938.8L697 938.3L697.5 939.2L698 939.1L698.5 938.6L699 938.5L699.5 937.4L700 938.4L700.5 938L701 938.2L701.5 938.3L702 937.8L702.5 937.2L703 938L703.5 937.5L704 937.6L704.5 937.5L705 937.5L705.5 936.7L706 938L706.5 937.6L707 937.9L707.5 938.2L708 937.4L708.5 936.6L709 936.9L709.5 936.7L710 937L710.5 937.1L711 936.3L711.5 937.2L712 936.4L712.5 937L713 936.8L713.5 936.7L714 936.8L714.5 936.5L715 936.4L715.5 936L716 936.6L716.5 937.3L717 937.3L717.5 937L718 936.7L718.5 936.1L719 936.9L719.5 936.3L720 936.2L720.5 936.1L721 936.2L721.5 936L722 936.1L722.5 935.6L723 935.8L723.5 936.9L724 935.9L724.5 935.8L725 936L725.5 936.1L726 935.3L726.5 935.6L727 936L727.5 935.7L728 935.6L728.5 936.2L729 935.2L729.5 935.5L730 935.2L730.5 936L731 934.6L731.5 935L732 935L732.5 935.5L733 935.4L733.5 935.7L734 934.5L734.5 935.3L735 934.9L735.5 934.7L736 935.1L736.5 934.5L737 934L737.5 934.6L738 934.2L738.5 934.5L739 934.8L739.5 934.8L740 935.2L740.5 934.5L741 933.9L741.5 934.2L742 934.1L742.5 933.9L743 934.5L743.5 934.1L744 933.5L744.5 934.5L745 934.2L745.5 934.3L746 934.2L746.5 934.3L747 934.1L747.5 934.5L748 934.1L748.5 934.1L749 934.1L749.5 933.3L750 933.7L750.5 933.7L751 933.8L751.5 933.2L752 934.3L752.5 933.7L753 933.1L753.5 932.9L754 933.4L754.5 933.4L755 933.1L755.5 933.4L756 933.1L756.5 933.5L757 933L757.5 933.2L758 933.6L758.5 934.2L759 932.7L759.5 932.9L760 932.7L760.5 933.3L761 932.5L761.5 932.8L762 932.9L762.5 932.5L763 932.5L763.5 932.6L764 931.9L764.5 932.2L765 932.5L765.5 932.7L766 932.6L766.5 931.9L767 932.4L767.5 932.8L768 932.7L768.5 932.4L769 932.1L769.5 932.6L770 932.1L770.5 931.8L771 931.9L771.5 932.8L772 932.3L772.5 932.6L773 931.9L773.5 932.5L774 931.8L774.5 932L775 933L775.5 932.3L776 931.7L776.5 931.8L777 932L777.5 932.3L778 931.6L778.5 931L779 931.6L779.5 931.7L780 931.7L780.5 932.1L781 931.7L781.5 931.9L782 931.1L782.5 931.8L783 932.3L783.5 931.7L784 931.5L784.5 931.4L785 932L785.5 930.9L786 931.2L786.5 931.4L787 931.5L787.5 931L788 931.2L788.5 931L789 931.1L789.5 931L790 930.5L790.5 930.9L791 931.3L791.5 936.1L792 925.7L792.5 936L793 925.6L793.5 936L794 925.5L794.5 935.9L795 925.5L795.5 935.9L796 930.5L796.5 930.9L797 930.6L797.5 930.6L798 931.1L798.5 930L799 930.9L799.5 930.4L800 931L800.5 930.5L801 930.1L801.5 930.5L802 930.6L802.5 930.3L803 930.5L803.5 930L804 929.4L804.5 930.5L805 930.4L805.5 930.2L806 930.1L806.5 930.5L807 929.9L807.5 929.8L808 929.9L808.5 930.5L809 929.4L809.5 930.4L810 929.7L810.5 929.4L811 930.4L811.5 929.8L812 929.3L812.5 929.6L813 930.1L813.5 930.2L814 929.5L814.5 929.9L815 930L815.5 929.4L816 929.8L816.5 929.6L817 929.4L817.5 929.4L818 929.6L818.5 929.5L819 929.3L819.5 929.3L820 929.9L820.5 929.5L821 929.7L821.5 929.9L822 929.6L822.5 930.2L823 929L823.5 929.6L824 929.1L824.5 930L825 929.9L825.5 928.4L826 928.8L826.5 929.4L827 929.4L827.5 929.4L828 929L828.5 929.2L829 929.3L829.5 929L830 929.4L830.5 928.1L831 929.2L831.5 928.5L832 929.3L832.5 928.8L833 928.5L833.5 929L834 928.5L834.5 928.4L835 928.1L835.5 928.7L836 928.9L836.5 929.1L837 928.6L837.5 929.1L838 928.7L838.5 928.6L839 928.8L839.5 929L840 928.4L840.5 928.4L841 928.5L841.5 928.5L842 928.1L842.5 928.9L843 928.3L843.5 928.6L844 928.1L844.5 928.5L845 928.5L845.5 928.2L846 929.1L846.5 928.4L847 929L847.5 928.6L848 928L848.5 928.1L849 928.4L849.5 928.2L850 928.2L850.5 928L851 927.4L851.5 928L852 927.2L852.5 928.2L853 927.7L853.5 927.7L854 927.9L854.5 928.1L855 927.4L855.5 927.2L856 927.5L856.5 927.1L857 927.5L857.5 928.5L858 927.4L858.5 928.1L859 927.2L859.5 927.9L860 927.6L860.5 927.7L861 927.9L861.5 928.4L862 927.7L862.5 927.7L863 927.2L863.5 927.8L864 927.5L864.5 927.9L865 927.5L865.5 928.2L866 926.7L866.5 927.4L867 927.8L867.5 927.3L868 927.1L868.5 927.3L869 926.8L869.5 927.4L870 928.3L870.5 927.8L871 926.8L871.5 926.9L872 927.1L872.5 927.6L873 926.9L873.5 926.9L874 927.5L874.5 927.5L875 927L875.5 926.6L876 926.4L876.5 926.8L877 926.1L877.5 927.3L878 926.7L878.5 927.2L879 927.7L879.5 927.4L880 926.4L880.5 927.2L881 927.3L881.5 926.5L882 926.4L882.5 926.8L883 926.1L883.5 927.3L884 925.8L884.5 926.3L885 926.6L885.5 926.6L886 926.7L886.5 926.7L887 926.5L887.5 927.1L888 925.7L888.5 926.6L889 926.3L889.5 926.6L890 926.6L890.5 926.1L891 926.2L891.5 926.8L892 926.6L892.5 926.1L893 927.2L893.5 927.3L894 925.8L894.5 926.4L895 927.3L895.5 926.6L896 926.4L896.5 926.2L897 926L897.5 926.1L898 926L898.5 926.5L899 926L899.5 926L900 925.6L900.5 926.1L901 925.7L901.5 926L902 926.5L902.5 926.2L903 926.2L903.5 926.1L904 926L904.5 925.9L905 925.8L905.5 926.2L906 925.5L906.5 926.4L907 925.9L907.5 925.5L908 925.6L908.5 925.5L909 925.9L909.5 925.5L910 926.2L910.5 925.4L911 924.8L911.5 925.4L912 924.9L912.5 925.7L913 926.1L913.5 925.9L914 925.1L914.5 925.3L915 926.3L915.5 925.7L916 925.5L916.5 925.9L917 926.5L917.5 926L918 925.5L918.5 925.6L919 925.7L919.5 925.2L920 925L920.5 925.4L921 925L921.5 925.3L922 925.4L922.5 926.3L923 925L923.5 925.2L924 925.2L924.5 925.4L925 925.7L925.5 925L926 924.9L926.5 924.5L927 924.8L927.5 925.4L928 925.2L928.5 924.7L929 925L929.5 925.1L930 925.3L930.5 924.8L931 924.9L931.5 924.3L932 924.5L932.5 925.6L933 924.1L933.5 924.8L934 925L934.5 924.8L935 924.6" fill="none" stroke="#000" stroke-width="4.7" stroke-linejoin="round"/>
<path d="M344.5 1299L345.2 1310.1L346 1320.1L346.8 1325.2L347.5 1333.3L348.2 1340.2L349 1345.1L349.8 1347L350.5 1348.5L351.2 1349.5L352 1348.8L352.8 1346.7L353.5 1341.6L354.2 1335.7L355 1329.5L355.8 1324.9L356.5 1320.7L357.2 1319.8L358 1316.6L358.8 1314.1L359.5 1311.9L360.2 1310L361 1307L361.8 1305.1L362.5 1303.1L363.2 1300.8L364 1297.4L364.8 1294.6L365.5 1291.5L366.2 1289.5L367 1286.2L367.8 1283L368.5 1280L369.2 1277L370 1271.7L370.8 1269.4L371.5 1267.2L372.2 1265.1L373 1263.1L373.8 1264.5L374.5 1262.6L375.2 1260.8L376 1259L376.8 1257.3L377.5 1252.5L378.2 1250.9L379 1249.4L379.8 1248.8L380.5 1247.3L381.2 1245.9L382 1245.1L382.8 1243.8L383.5 1242.5L384.2 1241.3L385 1240.3L385.8 1239.1L386.5 1238L387.2 1236.9L388 1235.1L388.8 1234L389.5 1233L390.2 1233.7L391 1232.6L391.8 1231.6L392.5 1230.5L393.2 1229.4L394 1228.8L394.8 1227.6L395.5 1226.5L396.2 1221.8L397 1220.7L397.8 1219.6L398.5 1218.4L399.2 1219.6L400 1218.5L400.8 1217.4L401.5 1214L402.2 1213L403 1211.9L403.8 1210.9L404.5 1209.9L405.2 1208.9L406 1208L406.8 1207.1L407.5 1206.2L408.2 1205.4L409 1208.7L409.8 1207.8L410.5 1207L411.2 1206.2L412 1205.4L412.8 1204L413.5 1203.2L414.2 1202.5L415 1201.7L415.8 1201L416.5 1198.3L417.2 1197.6L418 1196.9L418.8 1196.3L419.5 1195.3L420.2 1194.6L421 1194L421.8 1193.3L422.5 1193.7L423.2 1193.1L424 1192.5L424.8 1191.9L425.5 1191.7L426.2 1191.1L427 1190.6L427.8 1190L428.5 1189.4L429.2 1189.4L430 1188.9L430.8 1188.3L431.5 1187.8L432.2 1187.2L433 1185.8L433.8 1185.3L434.5 1184.7L435.2 1182.3L436 1181.8L436.8 1181.3L437.5 1180.8L438.2 1180.3L439 1180.9L439.8 1180.4L440.5 1179.9L441.2 1179.4L442 1178.9L442.8 1178.7L443.5 1178.2L444.2 1177.7L445 1177.3L445.8 1176.8L446.5 1175.9L447.2 1175.4L448 1174.9L448.8 1174.4L449.5 1172.5L450.2 1172L451 1171.6L451.8 1171.1L452.5 1170.6L453.2 1170.9L454 1170.5L454.8 1170L455.5 1171.7L456.2 1171.3L457 1170.8L457.8 1170.3L458.5 1170.2L459.2 1169.7L460 1169.2L460.8 1168.8L461.5 1168.3L462.2 1165.2L463 1164.8L463.8 1164.3L464.5 1164L465.2 1163.6L466 1163.1L466.8 1162.7L467.5 1162.3L468.2 1159.9L469 1159.4L469.8 1159L470.5 1161.6L471.2 1161.2L472 1160.8L472.8 1162L473.5 1161.6L474.2 1161.2L475 1159.8L475.8 1159.4L476.5 1159L477.2 1158.6L478 1159.9L478.8 1159.6L479.5 1159.2L480.2 1158.8L481 1156.1L481.8 1155.7L482.5 1155.4L483.2 1155L484 1157.2L484.8 1156.9L485.5 1156.6L486.2 1156.3L487 1155L487.8 1154.7L488.5 1154.4L489.2 1154.1L490 1153.9L490.8 1153.3L491.5 1153L492.2 1152.7L493 1152.5L493.8 1151.3L494.5 1151L495.2 1150.7L496 1150.5L496.8 1149.5L497.5 1149.3L498.2 1149L499 1148.8L499.8 1148.6L500.5 1148.3L501.2 1148.1L502 1148.8L502.8 1148.6L503.5 1148.3L504.2 1148.1L505 1149.8L505.8 1149.6L506.5 1149.3L507.2 1149.1L508 1144.6L508.8 1144.4L509.5 1144.1L510.2 1143.9L511 1143.7L511.8 1143.7L512.5 1143.5L513.2 1143.3L514 1144.3L514.8 1144L515.5 1143.8L516.2 1142.4L517 1142.1L517.8 1141.9L518.5 1143.5L519.2 1143.2L520 1143L520.8 1143.6L521.5 1143.4L522.2 1143.1L523 1142.9L523.8 1139.7L524.5 1139.5L525.2 1139.3L526 1139.1L526.8 1139.7L527.5 1139.5L528.2 1139.3L529 1139.1L529.8 1138.9L530.5 1140.3L531.2 1140L532 1139.8L532.8 1137.9L533.5 1137.7L534.2 1137.5L535 1137.3L535.8 1139.4L536.5 1139.2L537.2 1139L538 1138.8L538.8 1138.6L539.5 1135.3L540.2 1135.1L541 1134.9L541.8 1134.8L542.5 1134.6L543.2 1134.4L544 1135.7L544.8 1135.5L545.5 1135.3L546.2 1135.1L547 1134.9L547.8 1134.8L548.5 1134.6L549.2 1134.4L550 1134.2L550.8 1135.4L551.5 1135.3L552.2 1135.1L553 1134.9L553.8 1133L554.5 1132.8L555.2 1132.6L556 1132.4L556.8 1132.3L557.5 1131.6L558.2 1131.5L559 1131.3L559.8 1131.7L560.5 1131.5L561.2 1131.3L562 1133.3L562.8 1133.1L563.5 1132.9L564.2 1132.8L565 1130.5L565.8 1130.3L566.5 1130.2L567.2 1130L568 1129.8L568.8 1131.6L569.5 1131.4L570.2 1131.3L571 1131.1L571.8 1130.9L572.5 1127.7L573.2 1127.5L574 1127.4L574.8 1127.2L575.5 1128.4L576.2 1128.2L577 1128.1L577.8 1127.9L578.5 1127.8L579.2 1127.3L580 1127.1L580.8 1127L581.5 1126.8L582.2 1126.7L583 1126.7L583.8 1126.6L584.5 1126.4L585.2 1126.3L586 1126.2L586.8 1126.1L587.5 1126L588.2 1125.9L589 1125.7L589.8 1127.1L590.5 1126.9L591.2 1126.8L592 1126L592.8 1125.9L593.5 1125.7L594.2 1125.6L595 1125.5L595.8 1125.7L596.5 1125.5L597.2 1125.4L598 1124.2L598.8 1124L599.5 1123.9L600.2 1123.8L601 1125.7L601.8 1125.5L602.5 1125.4L603.2 1125.3L604 1125.2L604.8 1124.3L605.5 1124.2L606.2 1124.1L607 1123.9L607.8 1125.1L608.5 1125L609.2 1124.9L610 1123L610.8 1122.8L611.5 1122.7L612.2 1122.6L613 1122.5L613.8 1122.7L614.5 1122.6L615.2 1122.4L616 1122.3L616.8 1122.2L617.5 1123.2L618.2 1123.1L619 1122.9L619.8 1122.8L620.5 1122.3L621.2 1122.1L622 1122L622.8 1121.9L623.5 1122.2L624.2 1122.1L625 1121.9L625.8 1121.8L626.5 1122.1L627.2 1122L628 1121.9L628.8 1121.8L629.5 1119.5L630.2 1119.4L631 1119.4L631.8 1119.3L632.5 1119.2L633.2 1121L634 1120.9L634.8 1120.8L635.5 1120.7L636.2 1120.6L637 1119.9L637.8 1119.8L638.5 1119.7L639.2 1119.6L640 1119.5L640.8 1117L641.5 1116.9L642.2 1116.8L643 1117.6L643.8 1117.5L644.5 1117.4L645.2 1117.3L646 1117.9L646.8 1117.9L647.5 1117.8L648.2 1117.7L649 1117.6L649.8 1115.9L650.5 1115.8L651.2 1115.7L652 1115.6L652.8 1115.6L653.5 1118.7L654.2 1118.6L655 1118.5L655.8 1114.7L656.5 1114.7L657.2 1114.6L658 1114.5L658.8 1114.5L659.5 1117.8L660.2 1117.7L661 1117.7L661.8 1117.6L662.5 1116.3L663.2 1116.3L664 1116.2L664.8 1116.1L665.5 1116.1L666.2 1115.4L667 1115.3L667.8 1115.3L668.5 1115.2L669.2 1117.7L670 1117.6L670.8 1117.6L671.5 1117.5L672.2 1116.7L673 1116.7L673.8 1116.6L674.5 1116.5L675.2 1116.5L676 1116.3L676.8 1116.3L677.5 1116.2L678.2 1116.1L679 1114L679.8 1113.9L680.5 1113.8L681.2 1115.6L682 1115.5L682.8 1115.4L683.5 1114.8L684.2 1114.8L685 1114.7L685.8 1114.6L686.5 1114.6L687.2 1111.5L688 1111.4L688.8 1111.4L689.5 1114.1L690.2 1114.1L691 1114L691.8 1113.9L692.5 1112.8L693.2 1112.7L694 1112.7L694.8 1112.6L695.5 1114.8L696.2 1114.7L697 1114.7L697.8 1114.6L698.5 1112.1L699.2 1112L700 1112L700.8 1111.9L701.5 1111.8L702.2 1110.4L703 1110.3L703.8 1110.2L704.5 1110.8L705.2 1110.7L706 1110.6L706.8 1112.9L707.5 1112.9L708.2 1112.8L709 1112.7L709.8 1112.6L710.5 1110.4L711.2 1110.3L712 1110.3L712.8 1110.2L713.5 1110.1L714.2 1111.5L715 1111.4L715.8 1111.3L716.5 1111.2L717.2 1110.7L718 1110.6L718.8 1110.5L719.5 1110.4L720.2 1112.6L721 1112.6L721.8 1112.5L722.5 1112.4L723.2 1112.3L724 1107.9L724.8 1107.9L725.5 1107.8L726.2 1109.6L727 1109.6L727.8 1109.5L728.5 1109.4L729.2 1109.3L730 1111.1L730.8 1111L731.5 1110.9L732.2 1110.8L733 1109.6L733.8 1109.5L734.5 1109.4L735.2 1109.4L736 1110.9L736.8 1110.8L737.5 1110.7L738.2 1110.6L739 1110.6L739.8 1110.5L740.5 1110.4L741.2 1110.4L742 1108.8L742.8 1108.8L743.5 1108.7L744.2 1108.6L745 1108.5L745.8 1108.7L746.5 1108.6L747.2 1108.5L748 1109.5L748.8 1109.4L749.5 1109.3L750.2 1109.3L751 1107.4L751.8 1107.3L752.5 1107.3L753.2 1107.1L754 1107.1L754.8 1107L755.5 1106.9L756.2 1106.8L757 1105.5L757.8 1105.4L758.5 1105.3L759.2 1108.6L760 1108.5L760.8 1108.5L761.5 1108.4L762.2 1107.2L763 1107.1L763.8 1107L764.5 1104.9L765.2 1104.8L766 1104.7L766.8 1105.9L767.5 1105.8L768.2 1105.8L769 1105.7L769.8 1105.6L770.5 1106.4L771.2 1106.3L772 1106.3L772.8 1105.9L773.5 1105.8L774.2 1105.7L775 1105.7L775.8 1106.4L776.5 1106.3L777.2 1106.2L778 1106.2L778.8 1106.1L779.5 1105L780.2 1105L781 1104.9L781.8 1104.8L782.5 1104.7L783.2 1102.4L784 1102.4L784.8 1102.3L785.5 1102.2L786.2 1103L787 1102.9L787.8 1102.9L788.5 1102.8L789.2 1102.8L790 1101.5L790.8 1101.4L791.5 1101.3L792.2 1088.2L793 1088.1L793.8 1088.1L794.5 1088L795.2 1089.4L796 1089.4L796.8 1100.8L797.5 1100.7L798.2 1100.7L799 1101.4L799.8 1101.3L800.5 1101.3L801.2 1102.6L802 1102.5L802.8 1102.5L803.5 1101.2L804.2 1101.1L805 1101.1L805.8 1101.1L806.5 1103.9L807.2 1103.8L808 1103.8L808.8 1103.7L809.5 1102.8L810.2 1102.8L811 1102.7L811.8 1102.7L812.5 1102.6L813.2 1102.5L814 1102.5L814.8 1102.4L815.5 1102.9L816.2 1102.8L817 1102.8L817.8 1102.4L818.5 1102.4L819.2 1102.3L820 1101.8L820.8 1101.8L821.5 1101.7L822.2 1101.6L823 1101.6L823.8 1101.6L824.5 1100.7L825.2 1100.7L826 1100.7L826.8 1100.6L827.5 1100.6L828.2 1100.2L829 1100.1L829.8 1100.1L830.5 1100.1L831.2 1100.4L832 1100.3L832.8 1100.3L833.5 1100.3L834.2 1100.2L835 1102L835.8 1102L836.5 1101.9L837.2 1101.9L838 1102.4L838.8 1102.3L839.5 1102.3L840.2 1102.3L841 1102.2L841.8 1100.1L842.5 1100L843.2 1100L844 1099.9L844.8 1099.9L845.5 1099.4L846.2 1099.4L847 1099.3L847.8 1097.7L848.5 1097.6L849.2 1097.6L850 1101.1L850.8 1101.1L851.5 1101L852.2 1101L853 1099.9L853.8 1099.8L854.5 1099.8L855.2 1099.7L856 1099.2L856.8 1099.2L857.5 1099.1L858.2 1100.6L859 1100.6L859.8 1100.5L860.5 1100.5L861.2 1100.4L862 1098.5L862.8 1098.4L863.5 1098.4L864.2 1098.3L865 1098.3L865.8 1097.4L866.5 1097.4L867.2 1097.3L868 1097.2L868.8 1099.8L869.5 1099.7L870.2 1099.7L871 1098.7L871.8 1098.6L872.5 1098.6L873.2 1098.5L874 1099.4L874.8 1099.4L875.5 1099.3L876.2 1099.2L877 1096.7L877.8 1096.7L878.5 1096.6L879.2 1096.5L880 1096.4L880.8 1096.3L881.5 1096.3L882.2 1096.2L883 1096.2L883.8 1097.7L884.5 1097.6L885.2 1097.5L886 1097.5L886.8 1099.3L887.5 1099.2L888.2 1099.2L889 1098.6L889.8 1098.6L890.5 1098.5L891.2 1097.7L892 1097.7L892.8 1097.6L893.5 1097.6L894.2 1097.5L895 1096L895.8 1095.9L896.5 1095.9L897.2 1095.8L898 1095.8L898.8 1094.8L899.5 1094.7L900.2 1094.7L901 1094.6L901.8 1095.8L902.5 1095.8L903.2 1095.8L904 1096.7L904.8 1096.6L905.5 1096.6L906.2 1096.5L907 1097.2L907.8 1097.1L908.5 1097.1L909.2 1094.3L910 1094.3L910.8 1094.3L911.5 1096.4L912.2 1096.3L913 1096.3L913.8 1096.2L914.5 1097.2L915.2 1097.1L916 1097.1L916.8 1095L917.5 1095L918.2 1094.9L919 1094.9L919.8 1094.9L920.5 1094.2L921.2 1094.1L922 1094.1L922.8 1094.2L923.5 1094.2L924.2 1094.1L925 1096.9L925.8 1096.8L926.5 1096.8L927.2 1096.8L928 1096.7L928.8 1095.3L929.5 1095.2L930.2 1095.2L931 1095.2L931.8 1095.2L932.5 1095.1L933.2 1095.1L934 1095.1L934.8 1095.1L935.5 1095L935.5 1106.5L934.8 1106.6L934 1106.6L933.2 1106.6L932.5 1106.7L931.8 1106.7L931 1109.8L930.2 1109.9L929.5 1109.9L928.8 1109.9L928 1110L927.2 1110L926.5 1110.1L925.8 1110.1L925 1110.2L924.2 1106.6L923.5 1106.6L922.8 1106.7L922 1109.1L921.2 1109.1L920.5 1109.2L919.8 1108.9L919 1109L918.2 1109L917.5 1109L916.8 1109.1L916 1108L915.2 1108.1L914.5 1108.1L913.8 1108.2L913 1108.2L912.2 1107.8L911.5 1107.9L910.8 1107.9L910 1108L909.2 1108.8L908.5 1108.8L907.8 1108.9L907 1108.9L906.2 1109L905.5 1109.7L904.8 1109.7L904 1109.8L903.2 1109.8L902.5 1109.9L901.8 1110.5L901 1110.6L900.2 1110.6L899.5 1110.7L898.8 1110.7L898 1108.7L897.2 1108.8L896.5 1108.8L895.8 1108.9L895 1109.5L894.2 1109.5L893.5 1109.6L892.8 1109.6L892 1109.7L891.2 1110L890.5 1110.1L889.8 1110.1L889 1110.2L888.2 1111.2L887.5 1111.3L886.8 1111.4L886 1111.4L885.2 1111.6L884.5 1111.6L883.8 1111.7L883 1113.1L882.2 1113.1L881.5 1113.2L880.8 1113.1L880 1113.2L879.2 1113.2L878.5 1113.3L877.8 1113.4L877 1111.9L876.2 1112L875.5 1112.1L874.8 1112.1L874 1112.2L873.2 1110.6L872.5 1110.7L871.8 1110.7L871 1110.7L870.2 1110.8L869.5 1110.8L868.8 1110.9L868 1111L867.2 1112.6L866.5 1112.7L865.8 1112.8L865 1112.8L864.2 1114.2L863.5 1114.3L862.8 1114.4L862 1114.4L861.2 1114.5L860.5 1112.6L859.8 1112.6L859 1112.7L858.2 1114.1L857.5 1114.2L856.8 1114.2L856 1114.3L855.2 1115.1L854.5 1115.1L853.8 1115.2L853 1115.2L852.2 1115.3L851.5 1114.7L850.8 1114.7L850 1114.8L849.2 1114.1L848.5 1114.2L847.8 1114.2L847 1113.1L846.2 1113.1L845.5 1113.2L844.8 1113.2L844 1114.1L843.2 1114.2L842.5 1114.2L841.8 1114.3L841 1114.3L840.2 1113.9L839.5 1114L838.8 1114L838 1114.1L837.2 1114.1L836.5 1114.7L835.8 1114.7L835 1114.8L834.2 1113.2L833.5 1113.3L832.8 1113.3L832 1113.4L831.2 1113.4L830.5 1116L829.8 1116L829 1116.1L828.2 1116.1L827.5 1113.9L826.8 1114L826 1114L825.2 1114.1L824.5 1115.4L823.8 1115.5L823 1115.5L822.2 1115.5L821.5 1115.6L820.8 1115.6L820 1115.6L819.2 1115.7L818.5 1115.7L817.8 1116.7L817 1116.7L816.2 1116.8L815.5 1116.2L814.8 1116.3L814 1116.3L813.2 1116.3L812.5 1116.4L811.8 1117.1L811 1117.1L810.2 1117.2L809.5 1117.2L808.8 1117.6L808 1117.6L807.2 1117.7L806.5 1117.7L805.8 1118.4L805 1118.5L804.2 1118.5L803.5 1117.4L802.8 1117.5L802 1117.5L801.2 1117.6L800.5 1117.6L799.8 1115.4L799 1115.5L798.2 1115.5L797.5 1115.6L796.8 1115.6L796 1115.4L795.2 1132L794.5 1132.1L793.8 1118.8L793 1120.4L792.2 1120.5L791.5 1120.5L790.8 1120.6L790 1120.6L789.2 1118.2L788.5 1118.3L787.8 1118.4L787 1118.4L786.2 1119.3L785.5 1119.4L784.8 1119.5L784 1119.5L783.2 1119.6L782.5 1117.7L781.8 1117.8L781 1117.9L780.2 1116.7L779.5 1116.8L778.8 1116.9L778 1117L777.2 1119.2L776.5 1119.3L775.8 1119.4L775 1119.5L774.2 1118.8L773.5 1118.9L772.8 1118.9L772 1119L771.2 1120.5L770.5 1120.6L769.8 1120.7L769 1120.8L768.2 1120.9L767.5 1118.4L766.8 1118.5L766 1118.6L765.2 1119.3L764.5 1119.4L763.8 1119.5L763 1119.5L762.2 1119.6L761.5 1119.4L760.8 1119.5L760 1119.6L759.2 1119.7L758.5 1121.9L757.8 1122L757 1122.1L756.2 1122.2L755.5 1122.3L754.8 1122.5L754 1122.6L753.2 1122.7L752.5 1123.6L751.8 1123.7L751 1123.8L750.2 1123.9L749.5 1120.8L748.8 1120.9L748 1121L747.2 1121.1L746.5 1121.1L745.8 1121.6L745 1121.7L744.2 1121.8L743.5 1123.2L742.8 1123.3L742 1123.4L741.2 1124.1L740.5 1124.2L739.8 1124.2L739 1124.3L738.2 1122.5L737.5 1122.6L736.8 1122.7L736 1122.8L735.2 1122.5L734.5 1122.6L733.8 1122.7L733 1122.8L732.2 1125.9L731.5 1126L730.8 1126.1L730 1126.2L729.2 1126.3L728.5 1122.5L727.8 1122.6L727 1122.6L726.2 1122.7L725.5 1123.5L724.8 1123.6L724 1123.7L723.2 1125L722.5 1125.1L721.8 1125.2L721 1125.3L720.2 1126.8L719.5 1126.9L718.8 1127L718 1127.1L717.2 1124.7L716.5 1124.8L715.8 1124.8L715 1124.9L714.2 1124.2L713.5 1124.3L712.8 1124.4L712 1126.7L711.2 1126.8L710.5 1126.9L709.8 1127L709 1127.1L708.2 1127.2L707.5 1127.3L706.8 1127L706 1127.1L705.2 1127.2L704.5 1126.6L703.8 1126.7L703 1126.8L702.2 1126.8L701.5 1126.9L700.8 1125.6L700 1125.7L699.2 1125.8L698.5 1128.9L697.8 1129L697 1129.1L696.2 1129.2L695.5 1126.4L694.8 1126.4L694 1126.5L693.2 1126.6L692.5 1126.7L691.8 1129.2L691 1129.3L690.2 1129.4L689.5 1129.5L688.8 1129.5L688 1129.1L687.2 1129.2L686.5 1129.2L685.8 1129.3L685 1129.1L684.2 1129.1L683.5 1129.2L682.8 1129.3L682 1129.4L681.2 1129.4L680.5 1129.5L679.8 1129.6L679 1129.6L678.2 1129.3L677.5 1129.3L676.8 1129.4L676 1129.5L675.2 1130.9L674.5 1131L673.8 1131L673 1131.1L672.2 1131.2L671.5 1128.4L670.8 1128.5L670 1128.5L669.2 1129.6L668.5 1129.7L667.8 1129.7L667 1129.8L666.2 1129.9L665.5 1133.9L664.8 1134L664 1134.1L663.2 1134.1L662.5 1132.5L661.8 1132.6L661 1132.6L660.2 1132.7L659.5 1132.8L658.8 1133.7L658 1133.8L657.2 1133.8L656.5 1133.9L655.8 1134L655 1131.1L654.2 1131.2L653.5 1131.3L652.8 1131.4L652 1134L651.2 1134.1L650.5 1134.2L649.8 1134.3L649 1134.4L648.2 1134.4L647.5 1134.5L646.8 1134.6L646 1133.9L645.2 1133.9L644.5 1134L643.8 1134.8L643 1134.9L642.2 1135L641.5 1135.1L640.8 1133.6L640 1133.7L639.2 1133.8L638.5 1133.9L637.8 1133.8L637 1133.9L636.2 1134L635.5 1134.1L634.8 1136L634 1136.1L633.2 1136.2L632.5 1136L631.8 1136.1L631 1136.2L630.2 1136.1L629.5 1136.2L628.8 1136.3L628 1136.4L627.2 1133.9L626.5 1134L625.8 1134.1L625 1134.3L624.2 1135L623.5 1135.2L622.8 1135.3L622 1134.8L621.2 1134.9L620.5 1135L619.8 1136.5L619 1136.6L618.2 1136.7L617.5 1136.8L616.8 1138.2L616 1138.3L615.2 1138.4L614.5 1138.5L613.8 1138.5L613 1138.6L612.2 1138.8L611.5 1138.9L610.8 1139L610 1139.7L609.2 1139.8L608.5 1139.9L607.8 1140.1L607 1138.8L606.2 1138.9L605.5 1139L604.8 1139.2L604 1139.3L603.2 1138.1L602.5 1138.2L601.8 1138.3L601 1138.5L600.2 1138.6L599.5 1141.3L598.8 1141.5L598 1141.6L597.2 1139.3L596.5 1139.4L595.8 1139.6L595 1140.5L594.2 1140.6L593.5 1140.7L592.8 1140.9L592 1142.2L591.2 1142.4L590.5 1142.5L589.8 1146.1L589 1146.3L588.2 1146.4L587.5 1146.5L586.8 1146.7L586 1143.6L585.2 1143.8L584.5 1143.9L583.8 1142.9L583 1143.1L582.2 1143.2L581.5 1143.4L580.8 1143.7L580 1143.8L579.2 1144L578.5 1144.1L577.8 1144.3L577 1145L576.2 1145.2L575.5 1145.3L574.8 1145.5L574 1145.6L573.2 1142.9L572.5 1143.1L571.8 1143.3L571 1143.4L570.2 1146.8L569.5 1146.9L568.8 1147.1L568 1147.3L567.2 1144.9L566.5 1145.1L565.8 1145.3L565 1144.8L564.2 1144.9L563.5 1145.1L562.8 1147.2L562 1147.3L561.2 1147.5L560.5 1147.7L559.8 1147.9L559 1148.2L558.2 1148.4L557.5 1148.6L556.8 1148.8L556 1149.1L555.2 1149.3L554.5 1149.5L553.8 1149.7L553 1148.8L552.2 1149L551.5 1149.2L550.8 1149.4L550 1150.5L549.2 1150.7L548.5 1150.9L547.8 1151.1L547 1149.2L546.2 1149.4L545.5 1149.6L544.8 1150.4L544 1150.6L543.2 1150.8L542.5 1151L541.8 1152L541 1152.2L540.2 1152.4L539.5 1152.6L538.8 1152.8L538 1155L537.2 1155.3L536.5 1155.5L535.8 1155.7L535 1156L534.2 1156.3L533.5 1156.5L532.8 1156.3L532 1156.5L531.2 1156.7L530.5 1156.9L529.8 1157.2L529 1157.4L528.2 1157.6L527.5 1157.8L526.8 1158L526 1156.5L525.2 1156.7L524.5 1157L523.8 1157.2L523 1157.4L522.2 1158.1L521.5 1158.3L520.8 1158.5L520 1158.7L519.2 1159L518.5 1157L517.8 1157.2L517 1157.5L516.2 1158L515.5 1158.2L514.8 1158.5L514 1158.7L513.2 1161.2L512.5 1161.4L511.8 1161.6L511 1162L510.2 1162.3L509.5 1162.5L508.8 1162.8L508 1163L507.2 1162.1L506.5 1162.3L505.8 1162.6L505 1162.8L504.2 1163.1L503.5 1165.1L502.8 1165.4L502 1165.6L501.2 1165.9L500.5 1166.1L499.8 1164.4L499 1164.7L498.2 1164.9L497.5 1165.2L496.8 1165.5L496 1165.6L495.2 1165.9L494.5 1166.1L493.8 1166.4L493 1166.7L492.2 1169.5L491.5 1169.8L490.8 1170.1L490 1167.4L489.2 1167.7L488.5 1168L487.8 1168.3L487 1168.6L486.2 1174.6L485.5 1174.9L484.8 1175.3L484 1175.6L483.2 1169.5L482.5 1169.9L481.8 1170.2L481 1172.6L480.2 1172.9L479.5 1173.3L478.8 1173.7L478 1174.9L477.2 1175.3L476.5 1175.7L475.8 1176L475 1176.4L474.2 1177.4L473.5 1177.8L472.8 1178.2L472 1178.6L471.2 1179L470.5 1176.1L469.8 1176.5L469 1177L468.2 1177.4L467.5 1177.8L466.8 1179.1L466 1179.6L465.2 1180L464.5 1180.5L463.8 1180.9L463 1181.6L462.2 1182L461.5 1182.5L460.8 1183L460 1183.5L459.2 1183.9L458.5 1186L457.8 1186.4L457 1186.9L456.2 1187.3L455.5 1187.8L454.8 1189.2L454 1189.6L453.2 1190.1L452.5 1187.8L451.8 1188.3L451 1188.8L450.2 1189.7L449.5 1190.2L448.8 1190.6L448 1191.1L447.2 1192.4L446.5 1192.9L445.8 1193.3L445 1193.8L444.2 1194.3L443.5 1192.9L442.8 1193.4L442 1193.9L441.2 1200.8L440.5 1201.3L439.8 1201.8L439 1202.2L438.2 1202.7L437.5 1196.2L436.8 1196.7L436 1197.2L435.2 1197.7L434.5 1199.2L433.8 1199.7L433 1200.2L432.2 1201.3L431.5 1201.8L430.8 1202.4L430 1202.9L429.2 1203.5L428.5 1204L427.8 1204.6L427 1205.1L426.2 1205.5L425.5 1206.1L424.8 1206.7L424 1207.3L423.2 1207.9L422.5 1210.1L421.8 1210.7L421 1211.3L420.2 1211.9L419.5 1212.6L418.8 1214.9L418 1215.5L417.2 1216.2L416.5 1216.9L415.8 1217.6L415 1215.3L414.2 1216L413.5 1216.7L412.8 1217.5L412 1218.2L411.2 1221.6L410.5 1222.4L409.8 1223.2L409 1223.4L408.2 1224.2L407.5 1225.1L406.8 1225.9L406 1226.8L405.2 1225.8L404.5 1226.8L403.8 1227.7L403 1228.7L402.2 1228.5L401.5 1229.5L400.8 1230.6L400 1231.4L399.2 1232.5L398.5 1233.6L397.8 1234.7L397 1235.8L396.2 1236.9L395.5 1243.2L394.8 1244.3L394 1245.4L393.2 1244.9L392.5 1246L391.8 1247.1L391 1248.1L390.2 1249.2L389.5 1250.8L388.8 1251.8L388 1252.9L387.2 1254L386.5 1255.1L385.8 1252.6L385 1253.7L384.2 1254.9L383.5 1256.1L382.8 1257.3L382 1258.6L381.2 1259.9L380.5 1261.3L379.8 1262.8L379 1267.9L378.2 1269.4L377.5 1271L376.8 1272.6L376 1272.8L375.2 1274.5L374.5 1276.3L373.8 1278.2L373 1280.1L372.2 1279.9L371.5 1282L370.8 1284.2L370 1286.5L369.2 1289.9L368.5 1292.8L367.8 1295.8L367 1299L366.2 1303L365.5 1306.2L364.8 1309.3L364 1312.1L363.2 1314.8L362.5 1319.3L361.8 1321.3L361 1323L360.2 1324.7L359.5 1326.5L358.8 1326.1L358 1328.5L357.2 1331.6L356.5 1335.3L355.8 1339.1L355 1343.6L354.2 1349.6L353.5 1355.9L352.8 1360.1L352 1362L351.2 1361.6L350.5 1361L349.8 1359.4L349 1357.3L348.2 1353.1L347.5 1346.1L346.8 1337.5L346 1328.9L345.2 1318.9L344.5 1307.6Z" fill="#000" stroke="#000" stroke-width="3.4" stroke-linejoin="round"/>
<text class="b" font-size="48.5" x="30.5" y="852.5">B</text>
<text font-size="37.6" text-anchor="middle" transform="translate(265.2 1105.2) rotate(-90)">Conversion (%)</text>
<text font-size="37.5" x="573" y="1419">Time (s)</text>
<text class="ser" font-size="40" transform="translate(837.4 911.2) scale(0.95 1)">C=C</text>
<path d="M862.8 1047L844.7 1015.3H898.4L879.1 1047" fill="none" stroke="#000" stroke-width="2.2" stroke-linejoin="miter"/>
<text font-size="27" text-anchor="middle" x="871.5" y="1070">O</text>
</svg></body></html>
